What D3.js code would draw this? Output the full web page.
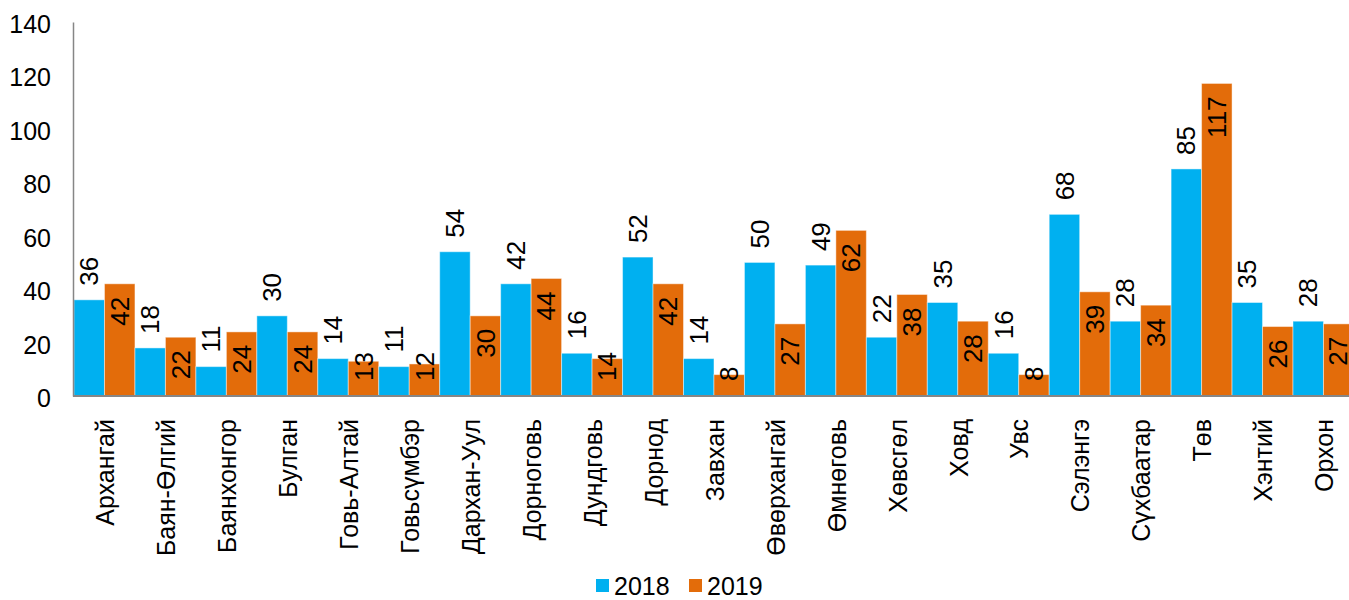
<!DOCTYPE html>
<html>
<head>
<meta charset="utf-8">
<script src="https://cdn.jsdelivr.net/npm/d3@7"></script>
<style>
  body { margin: 0; background: #fff; }
  svg { display: block; font-family: "Liberation Sans", Arial, sans-serif; }
</style>
</head>
<body>
<svg id="chart" width="1349" height="600"></svg>
<script>
const aimags = ["Архангай", "Баян-Өлгий", "Баянхонгор", "Булган", "Говь-Алтай", "Говьсүмбэр",
    "Дархан-Уул", "Дорноговь", "Дундговь", "Дорнод", "Завхан", "Өвөрхангай", "Өмнөговь",
    "Хөвсгөл", "Ховд", "Увс", "Сэлэнгэ", "Сүхбаатар", "Төв", "Хэнтий", "Орхон"];
const years = ["2018", "2019"];
const v2018 = [36, 18, 11, 30, 14, 11, 54, 42, 16, 52, 14, 50, 49, 22, 35, 16, 68, 28, 85, 35, 28];
const v2019 = [42, 22, 24, 24, 13, 12, 30, 44, 14, 42, 8, 27, 62, 38, 28, 8, 39, 34, 117, 26, 27];
const yTicks = [0, 20, 40, 60, 80, 100, 120, 140];
const colors = ["#00B0F0", "#E36C0A"];

const svg = d3.select("#chart");
const plotLeft = 74, groupW = 60.95, baseY = 396, topY = 22;

const x = d3.scaleBand()
    .domain(aimags)
    .range([plotLeft, plotLeft + groupW * aimags.length])
    .padding(0);
const xIn = d3.scaleBand()
    .domain(years)
    .range([0, x.bandwidth()])
    .padding(0);
const y = d3.scaleLinear()
    .domain([0, 140])
    .range([baseY, topY]);

const rows = aimags.map((a, i) => ({ name: a, vals: [v2018[i], v2019[i]] }));

// bars
const groups = svg.append("g").selectAll("g")
    .data(rows)
    .enter()
    .append("g")
    .attr("transform", d => `translate(${x(d.name)},0)`);

groups.selectAll("rect")
    .data(d => d.vals.map((v, k) => ({ year: years[k], v: v, k: k })))
    .enter()
    .append("rect")
    .attr("x", d => xIn(d.year))
    .attr("y", d => y(d.v))
    .attr("width", xIn.bandwidth())
    .attr("height", d => baseY - y(d.v))
    .attr("fill", d => colors[d.k])
    .attr("stroke", "rgba(255,255,255,0.45)")
    .attr("stroke-width", 1);

// value labels: 2018 above the bar, 2019 inside the top of the bar
groups.selectAll("text")
    .data(d => d.vals.map((v, k) => ({ year: years[k], v: v, k: k })))
    .enter()
    .append("text")
    .attr("font-size", 26)
    .attr("fill", "#000")
    .attr("text-anchor", "start")
    .text(d => d.v)
    .each(function(d) {
        let gx = x(d3.select(this.parentNode).datum().name);
        // keep the last label inside the picture, as the reference does
        let cx = Math.min(xIn(d.year) + xIn.bandwidth() / 2, 1338 - gx);
        let top = y(d.v);
        let len = this.getComputedTextLength();
        let bottom;
        if (d.k === 0) {
            bottom = top - 14;
        } else {
            bottom = Math.min(top + 13 + len, baseY - 15);
        }
        d3.select(this)
            .attr("dy", "0.35em")
            .attr("transform", `translate(${cx},${bottom}) rotate(-90)`);
    });

// y axis
const yAxis = svg.append("g")
    .attr("transform", `translate(${plotLeft - 1},0)`)
    .call(d3.axisLeft(y).tickValues(yTicks).tickSize(0).tickPadding(22));
yAxis.select(".domain").attr("stroke", "#868686").attr("stroke-width", 1.5);
yAxis.selectAll("text")
    .attr("font-family", "Liberation Sans, Arial, sans-serif")
    .attr("font-size", 25)
    .attr("dy", "0.42em")
    .attr("fill", "#000");

// x axis
const xAxis = svg.append("g")
    .attr("transform", `translate(0,${baseY})`)
    .call(d3.axisBottom(x).tickSize(0).tickPadding(0));
xAxis.select(".domain")
    .attr("d", `M${plotLeft - 1},0H1349`)
    .attr("stroke", "#868686")
    .attr("stroke-width", 2.2);
xAxis.selectAll(".tick text")
    .attr("font-family", "Liberation Sans, Arial, sans-serif")
    .attr("font-size", 25)
    .attr("fill", "#000")
    .attr("text-anchor", "end")
    .attr("transform", "translate(1,23) rotate(-90)")
    .attr("x", 0)
    .attr("y", 0)
    .attr("dy", "0.35em");

// legend
const legend = svg.append("g").attr("transform", "translate(596,0)");
const legendX = [0, 93];
years.forEach((yr, k) => {
    legend.append("rect")
        .attr("x", legendX[k])
        .attr("y", 579)
        .attr("width", 13)
        .attr("height", 13)
        .attr("fill", colors[k]);
    legend.append("text")
        .attr("x", legendX[k] + 18)
        .attr("y", 595)
        .attr("font-size", 25)
        .attr("fill", "#000")
        .text(yr);
});
</script>
</body>
</html>
